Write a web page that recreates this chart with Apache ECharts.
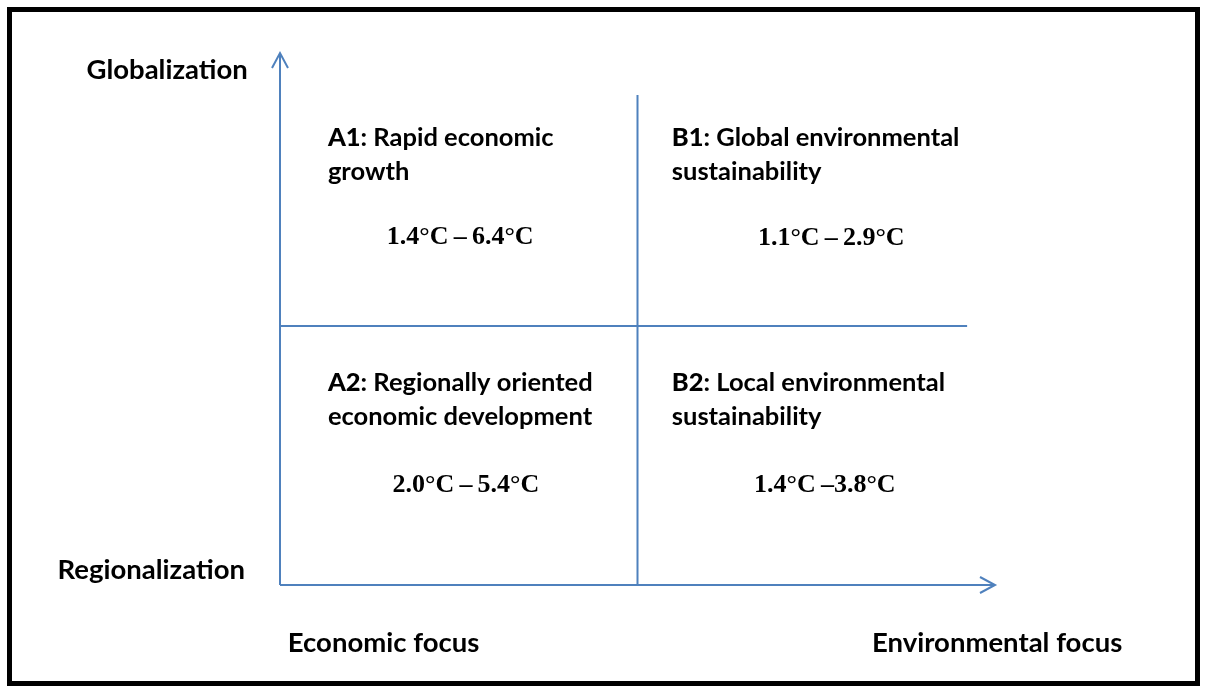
<!DOCTYPE html>
<html>
<head>
<meta charset="utf-8">
<script src="https://cdn.jsdelivr.net/npm/echarts@6/dist/echarts.min.js"></script>
<style>
  html, body { margin: 0; padding: 0; background: #fff; }
  #chart { width: 1207px; height: 693px; }
</style>
</head>
<body>
<div id="chart"></div>
<script>
// axis end labels
const axisNames = ['Globalization', 'Regionalization', 'Economic focus', 'Environmental focus']

// scenario quadrants
const scenarioCodes = ['A1', 'B1', 'A2', 'B2']
const scenarioTitles = [
  ['Rapid economic', 'growth'],
  ['Global environmental', 'sustainability'],
  ['Regionally oriented', 'economic development'],
  ['Local environmental', 'sustainability']
]
const warmingLow = ['1.4', '1.1', '2.0', '1.4']
const warmingHigh = ['6.4', '2.9', '5.4', '3.8']

// axis and divider segments in axis units: [x1, y1, x2, y2]
const axisSegments = [[0, 0, 10, 0], [0, 0, 0, 10]]
const dividerSegments = [[5, 0, 5, 9.21], [0, 4.87, 9.61, 4.87]]

// where the texts sit (axis units)
const axisNameAnchors = [[-0.45, 9.68], [-0.49, 0.28], [0.11, -1.09], [8.28, -1.09]]
const axisNameAlign = ['right', 'right', 'left', 'left']
const titleAnchors = [[0.67, 8.72], [5.48, 8.72], [0.67, 4.13], [5.48, 4.13]]
const rangeAnchors = [[2.52, 6.54], [7.71, 6.52], [2.60, 1.88], [7.62, 1.88]]

const lineColor = '#4f81bd'
const sansFont = 'Lato'
const serifFont = 'Liberation Serif'

const chart = echarts.init(document.getElementById('chart'))

// 画线段，axis 带箭头
function renderSegment(withArrow) {
  return function (params, api) {
    const p1 = api.coord([api.value(0), api.value(1)])
    const p2 = api.coord([api.value(2), api.value(3)])
    const children = [{
      type: 'line',
      shape: { x1: p1[0], y1: p1[1], x2: p2[0], y2: p2[1] },
      style: { stroke: lineColor, lineWidth: 2 }
    }]
    if (withArrow) {
      const dx = p2[0] - p1[0]
      const dy = p2[1] - p1[1]
      const len = Math.sqrt(dx * dx + dy * dy)
      const ux = dx / len
      const uy = dy / len
      const back = 15
      const spread = 8
      children.push({
        type: 'polyline',
        shape: {
          points: [
            [p2[0] - back * ux - spread * uy, p2[1] - back * uy + spread * ux],
            [p2[0], p2[1]],
            [p2[0] - back * ux + spread * uy, p2[1] - back * uy - spread * ux]
          ]
        },
        style: { stroke: lineColor, lineWidth: 2, fill: null }
      })
    }
    return { type: 'group', children: children }
  }
}

const option = {
  backgroundColor: '#fff',
  animation: false,
  grid: { left: 280, top: 53, width: 715, height: 532 },
  xAxis: { type: 'value', min: 0, max: 10, show: false },
  yAxis: { type: 'value', min: 0, max: 10, show: false },
  graphic: [{
    type: 'rect',
    shape: { x: 9.5, y: 9.5, width: 1188, height: 674 },
    style: { fill: null, stroke: '#000', lineWidth: 5 }
  }],
  series: [
    {
      type: 'custom',
      clip: false,
      data: axisSegments,
      renderItem: renderSegment(true)
    },
    {
      type: 'custom',
      clip: false,
      data: dividerSegments,
      renderItem: renderSegment(false)
    },
    {
      // axis names
      type: 'custom',
      clip: false,
      data: axisNameAnchors,
      renderItem: function (params, api) {
        const i = params.dataIndex
        const p = api.coord([api.value(0), api.value(1)])
        return {
          type: 'text',
          x: p[0],
          y: p[1],
          style: {
            text: axisNames[i],
            fill: '#000',
            fontFamily: sansFont,
            fontWeight: 'bold',
            fontSize: 27.5,
            align: axisNameAlign[i],
            verticalAlign: 'middle'
          }
        }
      }
    },
    {
      // scenario titles
      type: 'custom',
      clip: false,
      data: titleAnchors,
      renderItem: function (params, api) {
        const i = params.dataIndex
        const p = api.coord([api.value(0), api.value(1)])
        const t = scenarioTitles[i]
        return {
          type: 'text',
          x: p[0],
          y: p[1],
          style: {
            text: '{c|' + scenarioCodes[i] + '}{t|: ' + t[0] + '}\n{t|' + t[1] + '}',
            align: 'left',
            verticalAlign: 'top',
            rich: {
              c: { fontFamily: sansFont, fontWeight: 900, fontSize: 25.5, fill: '#000', lineHeight: 34 },
              t: { fontFamily: sansFont, fontWeight: 'bold', fontSize: 25.5, fill: '#000', lineHeight: 34 }
            }
          }
        }
      }
    },
    {
      // warming ranges
      type: 'custom',
      clip: false,
      data: rangeAnchors,
      renderItem: function (params, api) {
        const i = params.dataIndex
        const p = api.coord([api.value(0), api.value(1)])
        const sep = i === 3 ? '\u2009–' : '\u2009–\u2009'
        return {
          type: 'text',
          x: p[0],
          y: p[1],
          style: {
            text: warmingLow[i] + '°C' + sep + warmingHigh[i] + '°C',
            fill: '#000',
            fontFamily: serifFont,
            fontWeight: 'bold',
            fontSize: 26,
            align: 'center',
            verticalAlign: 'middle'
          }
        }
      }
    }
  ]
}

chart.setOption(option)
</script>
</body>
</html>
